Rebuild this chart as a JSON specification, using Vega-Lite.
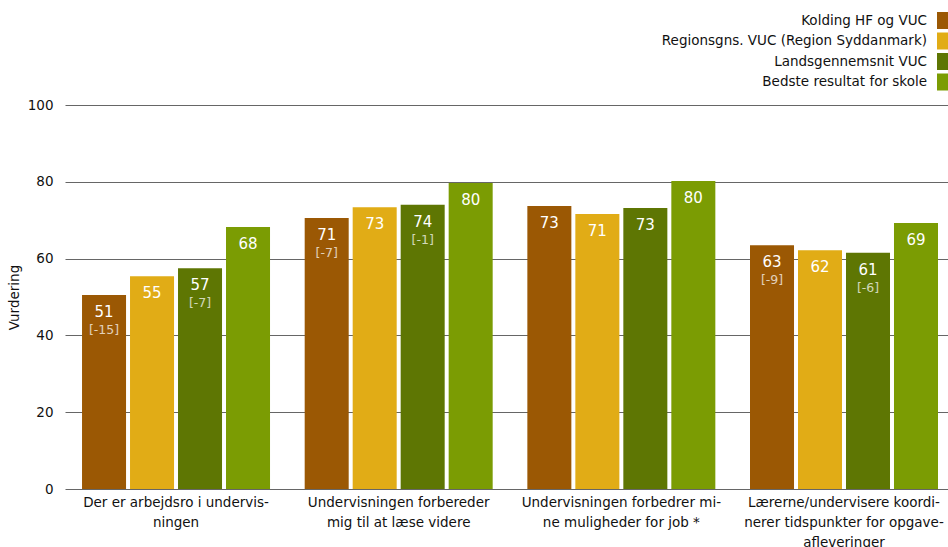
{
  "$schema": "https://vega.github.io/schema/vega-lite/v6.json",
  "width": 883,
  "height": 384,
  "autosize": {"type": "none"},
  "padding": {"left": 65, "top": 105, "right": 0, "bottom": 58},
  "background": "white",
  "config": {
    "font": "DejaVu Sans",
    "view": {"stroke": null}
  },
  "data": {
    "values": [
      {"q": "Der er arbejdsro i undervisningen", "s": "Kolding HF og VUC", "v": 50.5, "lbl": "51", "diff": "[-15]"},
      {"q": "Der er arbejdsro i undervisningen", "s": "Regionsgns. VUC (Region Syddanmark)", "v": 55.4, "lbl": "55", "diff": ""},
      {"q": "Der er arbejdsro i undervisningen", "s": "Landsgennemsnit VUC", "v": 57.5, "lbl": "57", "diff": "[-7]"},
      {"q": "Der er arbejdsro i undervisningen", "s": "Bedste resultat for skole", "v": 68.2, "lbl": "68", "diff": ""},
      {"q": "Undervisningen forbereder mig til at læse videre", "s": "Kolding HF og VUC", "v": 70.6, "lbl": "71", "diff": "[-7]"},
      {"q": "Undervisningen forbereder mig til at læse videre", "s": "Regionsgns. VUC (Region Syddanmark)", "v": 73.4, "lbl": "73", "diff": ""},
      {"q": "Undervisningen forbereder mig til at læse videre", "s": "Landsgennemsnit VUC", "v": 74.0, "lbl": "74", "diff": "[-1]"},
      {"q": "Undervisningen forbereder mig til at læse videre", "s": "Bedste resultat for skole", "v": 79.7, "lbl": "80", "diff": ""},
      {"q": "Undervisningen forbedrer mine muligheder for job *", "s": "Kolding HF og VUC", "v": 73.7, "lbl": "73", "diff": ""},
      {"q": "Undervisningen forbedrer mine muligheder for job *", "s": "Regionsgns. VUC (Region Syddanmark)", "v": 71.6, "lbl": "71", "diff": ""},
      {"q": "Undervisningen forbedrer mine muligheder for job *", "s": "Landsgennemsnit VUC", "v": 73.2, "lbl": "73", "diff": ""},
      {"q": "Undervisningen forbedrer mine muligheder for job *", "s": "Bedste resultat for skole", "v": 80.2, "lbl": "80", "diff": ""},
      {"q": "Lærerne/undervisere koordinerer tidspunkter for opgaveafleveringer", "s": "Kolding HF og VUC", "v": 63.5, "lbl": "63", "diff": "[-9]"},
      {"q": "Lærerne/undervisere koordinerer tidspunkter for opgaveafleveringer", "s": "Regionsgns. VUC (Region Syddanmark)", "v": 62.2, "lbl": "62", "diff": ""},
      {"q": "Lærerne/undervisere koordinerer tidspunkter for opgaveafleveringer", "s": "Landsgennemsnit VUC", "v": 61.5, "lbl": "61", "diff": "[-6]"},
      {"q": "Lærerne/undervisere koordinerer tidspunkter for opgaveafleveringer", "s": "Bedste resultat for skole", "v": 69.3, "lbl": "69", "diff": ""}
    ]
  },
  "encoding": {
    "x": {
      "field": "q",
      "type": "nominal",
      "sort": null,
      "scale": {"paddingInner": 0.1557, "paddingOuter": 0.0607, "align": 0.63},
      "axis": {
        "title": null,
        "domain": false,
        "ticks": false,
        "labelAngle": 0,
        "labelFontSize": 13.5,
        "labelColor": "#111",
        "labelPadding": 6,
        "labelLineHeight": 20,
        "labelBaseline": "top",
        "labelLimit": 400,
        "labelExpr": "datum.value == 'Der er arbejdsro i undervisningen' ? ['Der er arbejdsro i undervis-', 'ningen'] : datum.value == 'Undervisningen forbereder mig til at læse videre' ? ['Undervisningen forbereder', 'mig til at læse videre'] : datum.value == 'Undervisningen forbedrer mine muligheder for job *' ? ['Undervisningen forbedrer mi-', 'ne muligheder for job *'] : ['Lærerne/undervisere koordi-', 'nerer tidspunkter for opgave-', 'afleveringer']"
      }
    },
    "xOffset": {
      "field": "s",
      "type": "nominal",
      "sort": ["Kolding HF og VUC", "Regionsgns. VUC (Region Syddanmark)", "Landsgennemsnit VUC", "Bedste resultat for skole"],
      "scale": {"paddingInner": 0.083, "paddingOuter": 0}
    },
    "y": {
      "field": "v",
      "type": "quantitative",
      "scale": {"domain": [0, 100]},
      "axis": {
        "title": "Vurdering",
        "titleFontWeight": "normal",
        "titleFontSize": 13.5,
        "titleColor": "#111",
        "titlePadding": 6,
        "values": [0, 20, 40, 60, 80, 100],
        "domain": false,
        "ticks": false,
        "grid": true,
        "gridColor": "#666",
        "gridWidth": 1,
        "labelFontSize": 13.5,
        "labelColor": "#111",
        "labelPadding": 12
      }
    }
  },
  "layer": [
    {
      "mark": {"type": "bar"},
      "encoding": {
        "color": {
          "field": "s",
          "type": "nominal",
          "scale": {
            "domain": ["Kolding HF og VUC", "Regionsgns. VUC (Region Syddanmark)", "Landsgennemsnit VUC", "Bedste resultat for skole"],
            "range": ["#9B5804", "#E1AC16", "#5E7603", "#7B9C03"]
          },
          "legend": {
            "title": null,
            "orient": "none",
            "legendX": 872,
            "legendY": -93,
            "direction": "vertical",
            "padding": 0,
            "symbolType": "square",
            "symbolSize": 289,
            "symbolStrokeWidth": 0,
            "symbolOpacity": 1,
            "rowPadding": 3.5,
            "labelAlign": "right",
            "labelOffset": -27,
            "labelFontSize": 13.5,
            "labelColor": "#111",
            "labelLimit": 400
          }
        }
      }
    },
    {
      "mark": {"type": "text", "color": "white", "fontSize": 15, "baseline": "middle", "dy": 17},
      "encoding": {"text": {"field": "lbl"}}
    },
    {
      "mark": {"type": "text", "color": "white", "opacity": 0.72, "fontSize": 12.5, "baseline": "middle", "dy": 35},
      "encoding": {"text": {"field": "diff"}}
    }
  ]
}
